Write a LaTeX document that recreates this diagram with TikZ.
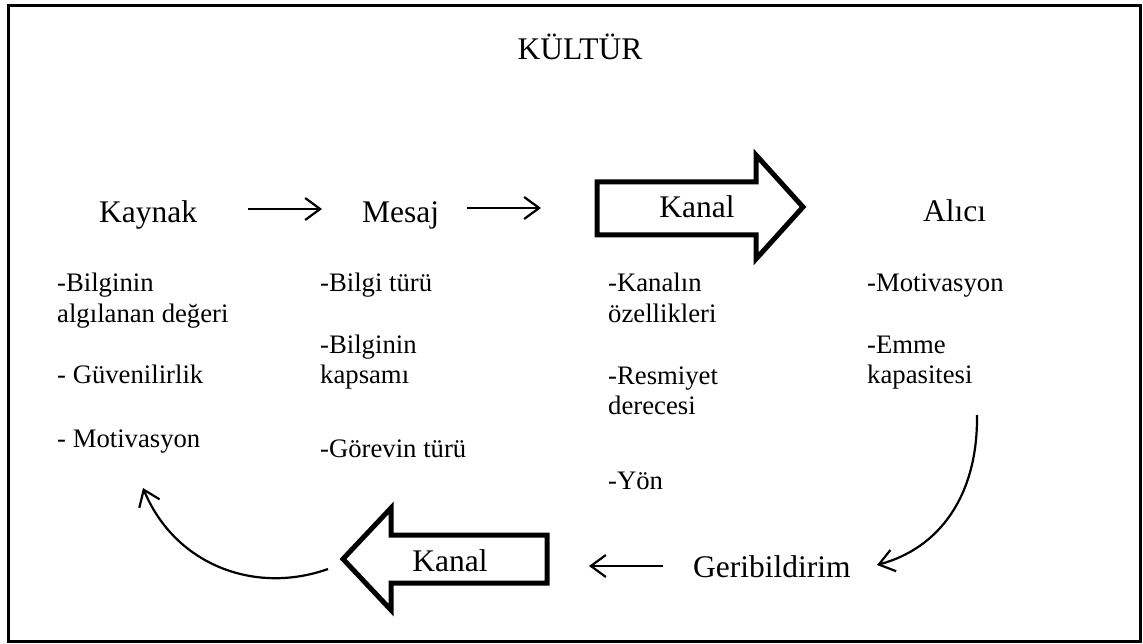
\documentclass[tikz,border=0pt]{standalone}
\usepackage{fontspec}
\setmainfont{Liberation Serif}
\usetikzlibrary{arrows.meta}

\begin{document}
\begin{tikzpicture}[x=1pt,y=-1pt,
  title/.style={font=\fontsize{31.5}{36}\selectfont, inner sep=0pt, anchor=base west},
  item/.style={font=\fontsize{26.7}{30.5}\selectfont, inner sep=0pt, anchor=base west, align=left},
  link/.style={line width=2.2pt, -{Straight Barb[length=15pt,width=22pt]}},
  blockarrow/.style={line width=5pt, miter limit=10, line join=miter},
]
\useasboundingbox (0,0) rectangle (1143,644);

% frame
\draw[line width=3pt] (8.5,6) rectangle (1140,641.5);

% heading
\node[title, anchor=base] (kultur) at (580,60) {KÜLTÜR};

% main chain
\node[title] (kaynak) at (99,222.7) {Kaynak};
\node[title] (mesaj) at (362,222.7) {Mesaj};
\node[title] (alici) at (923,222) {Alıcı};

% block arrow towards the receiver
\draw[blockarrow] (597,182) -- (756,182) -- (756,155) -- (803,207)
  -- (756,259) -- (756,235) -- (597,235) -- cycle;
\node[title, anchor=base] (kanalust) at (697,218) {Kanal};

% block arrow back towards the source
\draw[blockarrow] (547,535) -- (391,535) -- (391,508) -- (343,559)
  -- (391,610) -- (391,583) -- (547,583) -- cycle;
\node[title, anchor=base] (kanalalt) at (450,571) {Kanal};

\node[title] (geri) at (693,577) {Geribildirim};

% thin arrows
\coordinate (a1s) at (248,209);
\coordinate (a1e) at (322,209);
\coordinate (a2s) at (467,208);
\coordinate (a2e) at (541,208);
\coordinate (a3s) at (663,566);
\coordinate (a3e) at (589,566);
\draw[link] (a1s) -- (a1e);
\draw[link] (a2s) -- (a2e);
\draw[link] (a3s) -- (a3e);

% curved feedback arrows
\coordinate (c1s) at (977,415);
\coordinate (c1e) at (877,565);
\draw[link] (c1s) .. controls (978,495) and (940,548) .. (c1e);
\coordinate (c2s) at (328,569);
\coordinate (c2e) at (143,488);
\draw[link] (c2s) .. controls (255,595) and (175,565) .. (c2e);

% source properties (two-line nodes sit on their last baseline)
\node[item] (k1) at (57,322.5) {-Bilginin\\algılanan değeri};
\node[item] (k2) at (57,383) {- Güvenilirlik};
\node[item] (k3) at (57,447) {- Motivasyon};

% message properties
\node[item] (m1) at (320,292) {-Bilgi türü};
\node[item] (m2) at (320,383.5) {-Bilginin\\kapsamı};
\node[item] (m3) at (320,457) {-Görevin türü};

% channel properties
\node[item] (c1) at (608,322.5) {-Kanalın\\özellikleri};
\node[item] (c2) at (608,414.5) {-Resmiyet\\derecesi};
\node[item] (c3) at (608,489) {-Yön};

% receiver properties
\node[item] (r1) at (867,291) {-Motivasyon};
\node[item] (r2) at (867,383.5) {-Emme\\kapasitesi};
\end{tikzpicture}
\end{document}
